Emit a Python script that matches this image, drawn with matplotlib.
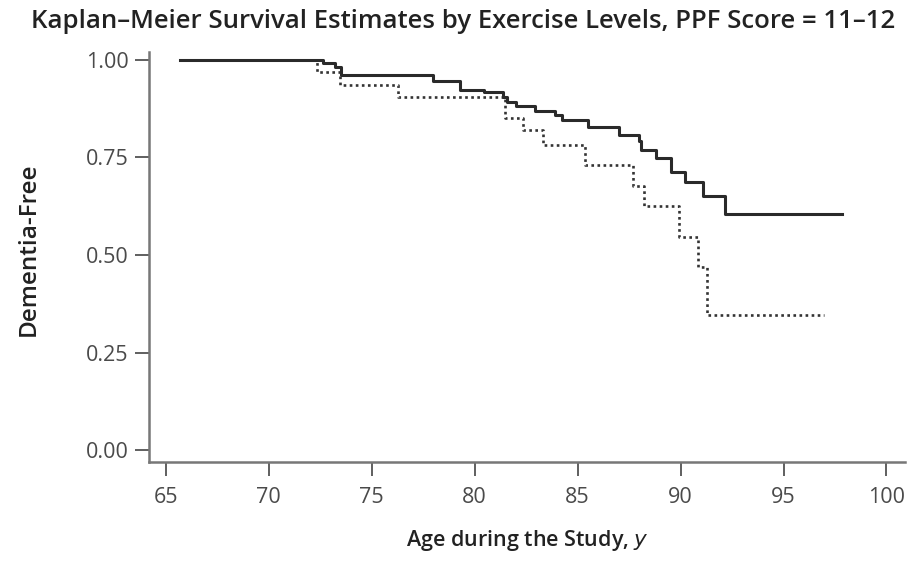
import matplotlib
matplotlib.use("Agg")
import matplotlib.pyplot as plt

# High exercise (solid) - step times (age) and survival after each step
solid_age = [65.7, 72.63, 73.22, 73.49, 77.97, 79.28, 80.43, 81.40, 81.58, 82.02,
             82.94, 83.91, 84.24, 85.49, 87.02, 87.96, 88.09, 88.82, 89.54, 90.23,
             91.11, 92.18, 97.85]
solid_surv = [1.0, 0.991, 0.983, 0.961, 0.945, 0.923, 0.919, 0.906, 0.893, 0.881,
              0.868, 0.859, 0.846, 0.829, 0.808, 0.791, 0.769, 0.749, 0.714, 0.686,
              0.650, 0.605, 0.605]

# Low exercise (dotted)
dot_age = [65.7, 72.34, 73.46, 76.29, 81.48, 82.37, 83.34, 85.37, 87.69, 88.24,
           89.91, 90.83, 91.29, 96.95]
dot_surv = [1.0, 0.968, 0.936, 0.904, 0.851, 0.821, 0.781, 0.731, 0.676, 0.625,
            0.545, 0.468, 0.347, 0.347]

x_ticks = [65, 70, 75, 80, 85, 90, 95, 100]
y_ticks = [0.00, 0.25, 0.50, 0.75, 1.00]
y_ticklabels = ["0.00", "0.25", "0.50", "0.75", "1.00"]

plt.rcParams['font.family'] = ['Open Sans', 'DejaVu Sans']

fig = plt.figure(figsize=(9.16, 5.67), dpi=100)
ax = fig.add_axes([0.163, 0.185, 0.825, 0.723])

ax.step(dot_age, dot_surv, where='post', color='#333333', linewidth=1.9,
        linestyle=(0, (1.0, 1.3)), solid_capstyle='butt', dash_capstyle='butt')
ax.step(solid_age, solid_surv, where='post', color='#2a2a2a', linewidth=2.2)

ax.set_xlim(64.2, 100.9)
ax.set_ylim(-0.031, 1.02)
ax.set_xticks(x_ticks)
ax.set_xticklabels([str(t) for t in x_ticks])
ax.set_yticks(y_ticks)
ax.set_yticklabels(y_ticklabels)

for s in ['top', 'right']:
    ax.spines[s].set_visible(False)
for s in ['left', 'bottom']:
    ax.spines[s].set_color('#777777')
    ax.spines[s].set_linewidth(1.8)

ax.tick_params(axis='both', direction='out', length=10, width=1.2, color='#444444',
               labelsize=15.5, labelcolor='#4a4a4a')
ax.tick_params(axis='x', pad=8)
ax.tick_params(axis='y', pad=5)

fig.text(0.506, 0.962, "Kaplan\u2013Meier Survival Estimates by Exercise Levels, PPF Score = 11\u201312",
         ha='center', va='center', fontsize=18.5, fontweight='semibold', color='#222222')
fig.text(0.031, 0.56, "Dementia-Free", rotation=90, ha='center', va='center',
         fontsize=17.5, fontweight='semibold', color='#222222')
fig.text(0.576, 0.047, "Age during the Study, $\\mathit{y}$", ha='center', va='center',
         fontsize=15.5, fontweight='semibold', color='#222222')

fig.savefig("out.png", dpi=100, facecolor='white')
